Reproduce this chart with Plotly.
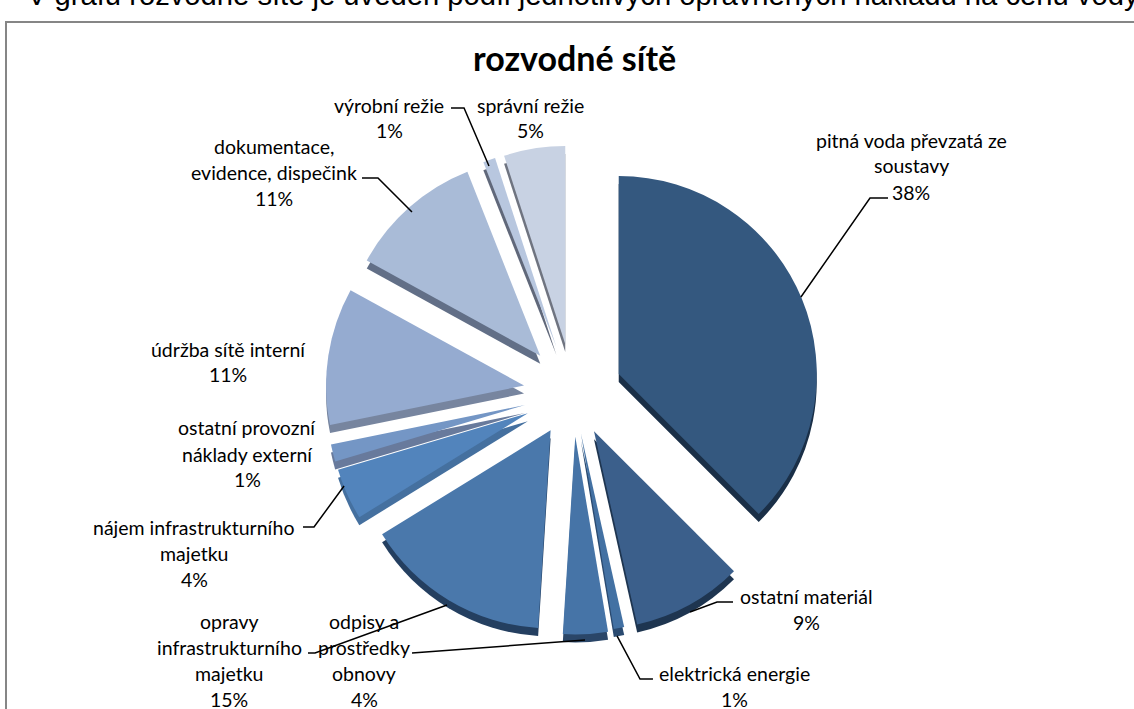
import plotly.graph_objects as go

categories = ["pitná voda převzatá ze soustavy", "ostatní materiál", "elektrická energie",
              "odpisy a prostředky obnovy", "opravy infrastrukturního majetku",
              "nájem infrastrukturního majetku", "ostatní provozní náklady externí",
              "údržba sítě interní", "dokumentace, evidence, dispečink", "výrobní režie", "správní režie"]
values = [37.5, 9.0, 0.85, 3.65, 15.2, 4.2, 1.4, 11.2, 11.0, 1.0, 5.0]
label_lines = [["pitná voda převzatá ze", "soustavy"], ["ostatní materiál"], ["elektrická energie"],
               ["odpisy a", "prostředky", "obnovy"], ["opravy", "infrastrukturního", "majetku"],
               ["nájem infrastrukturního", "majetku"], ["ostatní provozní", "náklady externí"],
               ["údržba sítě interní"], ["dokumentace,", "evidence, dispečink"], ["výrobní režie"], ["správní režie"]]
heading = "V grafu rozvodné sítě je uveden podíl jednotlivých oprávněných nákladů na cenu vody"
title = "rozvodné sítě"

W, H = 1134, 709
top_colors = ["#34587f", "#3b5f8b", "#4371a3", "#4674a7", "#4a78ab", "#5284bc",
              "#7496c5", "#95abd0", "#a9bbd7", "#b8c7df", "#c8d2e3"]
side_colors = ["#1a2f47", "#1e3550", "#2a4a70", "#2a4668", "#243f60", "#45709f",
               "#687a9c", "#77859f", "#626f87", "#60687a", "#6f7480"]
pulls = [0.25, 0.22, 0.21, 0.22, 0.22, 0.25, 0.25, 0.25, 0.25, 0.25, 0.25]

# pie placement in pixels
cx, cy, rad = 573, 393, 198
ext = rad * (1 + max(pulls))
def dom(dy):
    return dict(x=[(cx - ext) / W, (cx + ext) / W],
                y=[1 - (cy + dy + ext) / H, 1 - (cy + dy - ext) / H])

def pie(colors, dy):
    return go.Pie(labels=categories, values=values, sort=False, direction="clockwise", rotation=0,
                  pull=pulls, textinfo="none", hoverinfo="label+percent", showlegend=False,
                  marker=dict(colors=colors, line=dict(width=0)), domain=dom(dy))

fig = go.Figure([pie(side_colors, 8), pie(top_colors, 0)])

# label centres (x) and first-line centre (y), px
label_pos = [(911, 140), (806, 596), (734, 673), (364, 621), (229, 621),
             (194, 527), (247, 428), (228, 349), (274, 146), (389, 105), (530, 105)]
line_h = 26
ann = []
for lines, v, (x, y) in zip(label_lines, values, label_pos):
    for i, t in enumerate(lines + [f"{v:.0f}%"]):
        ann.append(dict(x=x / W, y=1 - (y + i * line_h) / H, xref="paper", yref="paper", text=t,
                        showarrow=False, xanchor="center", yanchor="middle",
                        font=dict(family="Lato", size=19.5, color="#000")))
ann.append(dict(x=574 / W, y=1 - 58 / H, xref="paper", yref="paper", text=f"<b>{title}</b>", showarrow=False,
                xanchor="center", yanchor="middle", font=dict(family="Lato", size=34, color="#000")))
ann.append(dict(x=25 / W, y=1 + 5 / H, xref="paper", yref="paper", text=heading, showarrow=False,
                xanchor="left", yanchor="middle", font=dict(family="Liberation Sans", size=29.2, color="#000")))

leaders = [[(888, 198), (870, 198), (801, 297)],
           [(733, 602), (717, 602), (690, 612)],
           [(653, 679), (640, 679), (617, 636)],
           [(412, 653), (585, 640)],
           [(308, 653), (315, 653), (447, 605)],
           [(303, 527), (314, 527), (344, 486)],
           [(362, 178), (378, 178), (412, 212)],
           [(451, 108), (464, 108), (489, 166)]]
shapes = [dict(type="rect", xref="paper", yref="paper", x0=6 / W, x1=1.02, y0=-0.02, y1=1 - 22 / H,
               line=dict(color="#868686", width=2), fillcolor="rgba(0,0,0,0)", layer="above")]
for pts in leaders:
    path = " ".join(("M" if i == 0 else "L") + f"{x / W:.4f},{1 - y / H:.4f}" for i, (x, y) in enumerate(pts))
    shapes.append(dict(type="path", xref="paper", yref="paper", path=path, line=dict(color="#000", width=1.5)))

fig.update_layout(width=W, height=H, margin=dict(l=0, r=0, t=0, b=0), paper_bgcolor="#fff",
                  annotations=ann, shapes=shapes)
fig.write_html("out.html", config={"displayModeBar": False},
               post_script="document.body.style.margin='0';document.documentElement.style.overflow='hidden';")
